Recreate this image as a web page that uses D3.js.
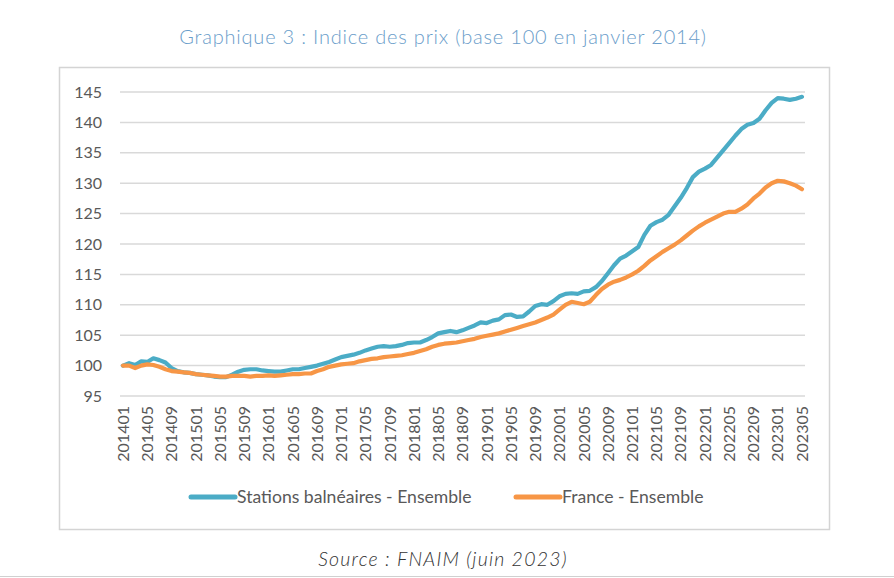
<!DOCTYPE html>
<html>
<head>
<meta charset="utf-8">
<script src="https://cdn.jsdelivr.net/npm/d3@7"></script>
<style>
  html, body { margin: 0; padding: 0; background: #ffffff; }
  svg { display: block; }
</style>
</head>
<body>
<svg id="chart" width="894" height="578"></svg>
<script>
const titleText = "Graphique 3 : Indice des prix (base 100 en janvier 2014)";
const sourceText = "Source : FNAIM (juin 2023)";

const months = [
  "201401","201402","201403","201404","201405","201406","201407","201408","201409","201410","201411","201412",
  "201501","201502","201503","201504","201505","201506","201507","201508","201509","201510","201511","201512",
  "201601","201602","201603","201604","201605","201606","201607","201608","201609","201610","201611","201612",
  "201701","201702","201703","201704","201705","201706","201707","201708","201709","201710","201711","201712",
  "201801","201802","201803","201804","201805","201806","201807","201808","201809","201810","201811","201812",
  "201901","201902","201903","201904","201905","201906","201907","201908","201909","201910","201911","201912",
  "202001","202002","202003","202004","202005","202006","202007","202008","202009","202010","202011","202012",
  "202101","202102","202103","202104","202105","202106","202107","202108","202109","202110","202111","202112",
  "202201","202202","202203","202204","202205","202206","202207","202208","202209","202210","202211","202212",
  "202301","202302","202303","202304","202305"
];

const stations = [
  100.0,100.4,100.1,100.7,100.6,101.2,100.9,100.5,99.6,99.1,98.9,98.8,
  98.6,98.5,98.4,98.2,98.1,98.1,98.5,99.0,99.3,99.4,99.4,99.2,
  99.1,99.0,99.0,99.2,99.4,99.4,99.6,99.8,100.0,100.3,100.6,101.0,
  101.4,101.6,101.8,102.1,102.5,102.8,103.1,103.2,103.1,103.2,103.4,103.7,
  103.8,103.8,104.2,104.7,105.3,105.5,105.7,105.5,105.8,106.2,106.6,107.1,
  107.0,107.4,107.6,108.3,108.4,108.0,108.1,108.9,109.8,110.1,110.0,110.6,
  111.4,111.8,111.9,111.8,112.2,112.3,112.9,113.9,115.2,116.5,117.6,118.1,
  118.8,119.5,121.5,123.0,123.6,124.0,124.8,126.2,127.6,129.2,131.0,131.9,
  132.4,133.0,134.2,135.4,136.6,137.8,138.9,139.6,139.9,140.6,142.0,143.2,
  144.0,143.9,143.7,143.9,144.2
];

const france = [
  100.0,100.0,99.6,100.0,100.2,100.1,99.8,99.4,99.1,99.0,98.9,98.8,
  98.6,98.5,98.4,98.3,98.2,98.2,98.3,98.3,98.3,98.2,98.3,98.3,
  98.4,98.3,98.4,98.5,98.6,98.6,98.7,98.7,99.1,99.4,99.8,100.0,
  100.2,100.3,100.4,100.7,100.9,101.1,101.2,101.4,101.5,101.6,101.7,101.9,
  102.1,102.4,102.7,103.1,103.4,103.6,103.7,103.8,104.0,104.2,104.4,104.7,
  104.9,105.1,105.3,105.6,105.9,106.2,106.5,106.8,107.1,107.5,107.9,108.4,
  109.2,110.0,110.5,110.3,110.1,110.5,111.6,112.6,113.3,113.8,114.1,114.5,
  115.0,115.6,116.4,117.3,118.0,118.7,119.3,119.9,120.6,121.4,122.2,122.9,
  123.5,124.0,124.5,125.0,125.3,125.3,125.8,126.5,127.5,128.3,129.3,130.0,
  130.4,130.3,130.0,129.6,129.0
];

const seriesNames = ["Stations balnéaires - Ensemble", "France - Ensemble"];
const seriesColors = ["#4bacc6", "#f79646"];
const yTicks = [95, 100, 105, 110, 115, 120, 125, 130, 135, 140, 145];
const xTickLabels = months.filter((d, i) => i % 4 === 0);

const svg = d3.select("#chart");
const font = "Lato, 'Open Sans', sans-serif";

// bottom page line
svg.append("line")
  .attr("x1", 0).attr("x2", 894).attr("y1", 576.5).attr("y2", 576.5)
  .attr("stroke", "#d0d0d0").attr("stroke-width", 1);

// Title
svg.append("text")
  .attr("x", 443).attr("y", 44)
  .attr("text-anchor", "middle")
  .attr("font-family", font).attr("font-weight", 300)
  .attr("font-size", 20).attr("letter-spacing", 0.8).attr("fill", "#6a9dca")
  .text(titleText);

// Chart frame
svg.append("rect")
  .attr("x", 59.5).attr("y", 67.5).attr("width", 770).attr("height", 462)
  .attr("fill", "#fff").attr("stroke", "#d4d4d4").attr("stroke-width", 1.5);

const x = d3.scaleBand().domain(months).range([120, 805]).padding(0);
const xc = d => x(d) + x.bandwidth() / 2;
const y = d3.scaleLinear().domain([95, 145]).range([396, 92]);

// gridlines
svg.append("g").selectAll("line").data(yTicks).join("line")
  .attr("x1", 120).attr("x2", 805)
  .attr("y1", d => y(d)).attr("y2", d => y(d))
  .attr("stroke", "#d9d9d9").attr("stroke-width", 1.5);

// Y axis
const yAxis = svg.append("g").attr("transform", "translate(102,0)")
  .call(d3.axisLeft(y).tickValues(yTicks).tickSize(0).tickPadding(0));
yAxis.select(".domain").remove();
yAxis.selectAll("text")
  .attr("font-family", font).attr("font-size", 16).attr("fill", "#595959");

// X axis
const xAxis = svg.append("g").attr("transform", "translate(0,406)")
  .call(d3.axisBottom(x).tickValues(xTickLabels).tickSize(0).tickPadding(0));
xAxis.select(".domain").remove();
xAxis.selectAll("text")
  .attr("font-family", font).attr("font-size", 16).attr("fill", "#595959")
  .attr("text-anchor", "end")
  .attr("transform", "rotate(-90)")
  .attr("x", 0).attr("y", 0).attr("dy", "0.36em");

// Lines
const line = d3.line().x((d, i) => xc(months[i])).y(d => y(d)).curve(d3.curveLinear);
[stations, france].forEach((s, k) => {
  svg.append("path")
    .datum(s)
    .attr("d", line)
    .attr("fill", "none")
    .attr("stroke", seriesColors[k])
    .attr("stroke-width", 4.2)
    .attr("stroke-linejoin", "round")
    .attr("stroke-linecap", "round");
});

// Legend
const legendX = [191, 516];
seriesNames.forEach((name, k) => {
  const g = svg.append("g").attr("transform", `translate(${legendX[k]},497)`);
  g.append("line").attr("x1", 0).attr("x2", 44).attr("y1", 0).attr("y2", 0)
    .attr("stroke", seriesColors[k]).attr("stroke-width", 5).attr("stroke-linecap", "round");
  g.append("text").attr("x", 46).attr("y", 0).attr("dy", "0.35em")
    .attr("font-family", font).attr("font-size", 17.6).attr("fill", "#595959")
    .text(name);
});

// Source
svg.append("text")
  .attr("x", 443).attr("y", 566)
  .attr("text-anchor", "middle")
  .attr("font-family", font).attr("font-style", "italic").attr("font-weight", 300)
  .attr("font-size", 19.5).attr("letter-spacing", 1.2).attr("fill", "#333333")
  .text(sourceText);
</script>
</body>
</html>
